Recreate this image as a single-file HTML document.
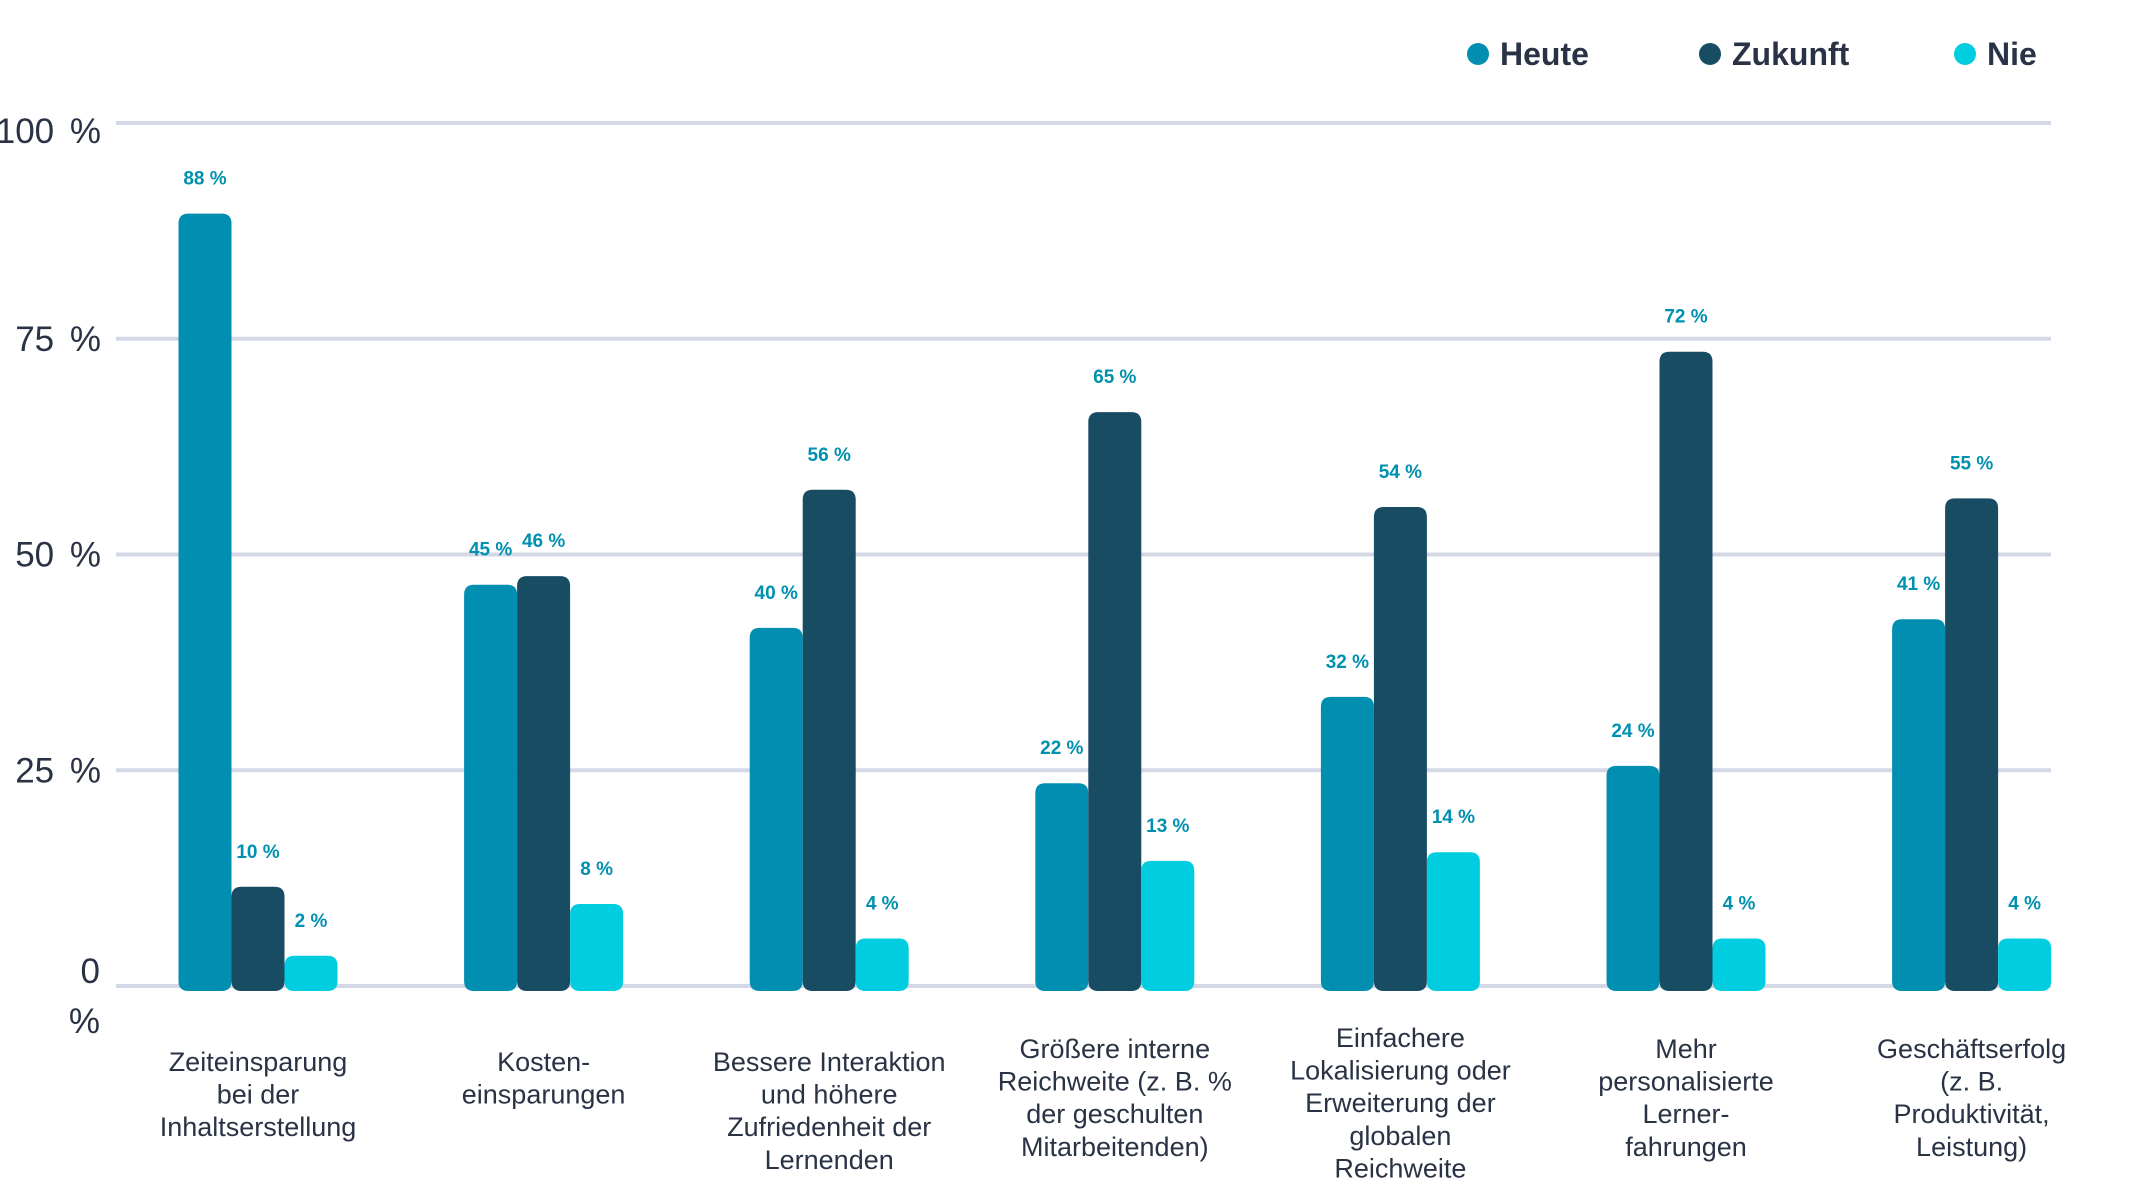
<!DOCTYPE html>
<html><head><meta charset="utf-8"><style>
html,body{margin:0;padding:0;background:#fff;}
svg{display:block;font-family:"Liberation Sans",sans-serif;}
</style></head><body>
<svg id="chart" width="2133" height="1185" viewBox="0 0 2133 1185">
<g id="grid"></g>
<g id="yticks"></g>
<g id="bars"></g>
<g id="cats"></g>
<g id="legend"></g>
</svg>
<script>
const categories = [
 ["Zeiteinsparung","bei der","Inhaltserstellung"],
 ["Kosten-","einsparungen"],
 ["Bessere Interaktion","und höhere","Zufriedenheit der","Lernenden"],
 ["Größere interne","Reichweite (z. B. %","der geschulten","Mitarbeitenden)"],
 ["Einfachere","Lokalisierung oder","Erweiterung der","globalen","Reichweite"],
 ["Mehr","personalisierte","Lerner-","fahrungen"],
 ["Geschäftserfolg","(z. B.","Produktivität,","Leistung)"]
];
const heute = [88,45,40,22,32,24,41];
const zukunft = [10,46,56,65,54,72,55];
const nie = [2,8,4,13,14,4,4];
const seriesNames = ["Heute","Zukunft","Nie"];
const yTicks = [0,25,50,75,100];
const catFirstLineY = [1062,1062,1062,1049,1038,1049,1049];

const NS="http://www.w3.org/2000/svg";
const colors=["#008fb0","#174c63","#00cde0"];
const y0=986, y100=123;
const y=v=>y0-(y0-y100)*v/100;
const groupX=i=>258+285.6*i;
const BW=53;
function el(t,a,p){const e=document.createElementNS(NS,t);for(const k in a)e.setAttribute(k,a[k]);p.appendChild(e);return e;}
const grid=document.getElementById('grid'),yt=document.getElementById('yticks'),bars=document.getElementById('bars'),cats=document.getElementById('cats'),leg=document.getElementById('legend');
yTicks.forEach(t=>{
 const l=el('line',{x1:116,x2:2051,y1:y(t),y2:y(t),stroke:'#d4d8e6','stroke-width':4},grid);
 
 
 if(t===0){
  const a=el('text',{x:100,y:y(t)-3,'text-anchor':'end','font-size':35,fill:'#2a3345'},yt);a.textContent='0';
  
  
  const b=el('text',{x:100,y:y(t)+47,'text-anchor':'end','font-size':35,fill:'#2a3345'},yt);b.textContent='%';
  
  
 } else {
  const a=el('text',{x:101,y:y(t)+(t===100?20:12),'text-anchor':'end','font-size':35,'word-spacing':6,fill:'#2a3345'},yt);a.textContent=t+' %';
  
  
 }
});
const series=[heute,zukunft,nie];
function barPath(x,top,bottom,w,r){return `M${x},${bottom-r}L${x},${top+r}Q${x},${top} ${x+r},${top}L${x+w-r},${top}Q${x+w},${top} ${x+w},${top+r}L${x+w},${bottom-r}Q${x+w},${bottom} ${x+w-r},${bottom}L${x+r},${bottom}Q${x},${bottom} ${x},${bottom-r}Z`;}
categories.forEach((c,i)=>{
 series.forEach((s,k)=>{
  const v=s[i];
  const x=groupX(i)+(k-1)*BW-BW/2;
  const top=y(v+1.5);
  const p=el('path',{d:barPath(x,top,y0+5,BW,10),fill:colors[k]},bars);
  
  
  const t=el('text',{x:x+BW/2,y:top-29,'text-anchor':'middle','font-size':19,'font-weight':'bold',fill:'#0090b0'},bars);
  t.textContent=v+' %';
  
  
 });
 const tx=el('text',{'text-anchor':'middle','font-size':27,fill:'#2a3345'},cats);
 
 
 c.forEach((line,j)=>{const ts=el('tspan',{x:groupX(i),y:catFirstLineY[i]+9+j*32.6},tx);ts.textContent=line;});
});
const legX=[1478,1710,1965];
seriesNames.forEach((n,k)=>{
 const g=el('g',{},leg);
 
 
 el('circle',{cx:legX[k],cy:54,r:11,fill:colors[k]},g);
 const t=el('text',{x:legX[k]+22,y:65,'font-size':32,'font-weight':'bold',fill:'#2a3345'},g);t.textContent=n;
});
</script>
</body></html>
